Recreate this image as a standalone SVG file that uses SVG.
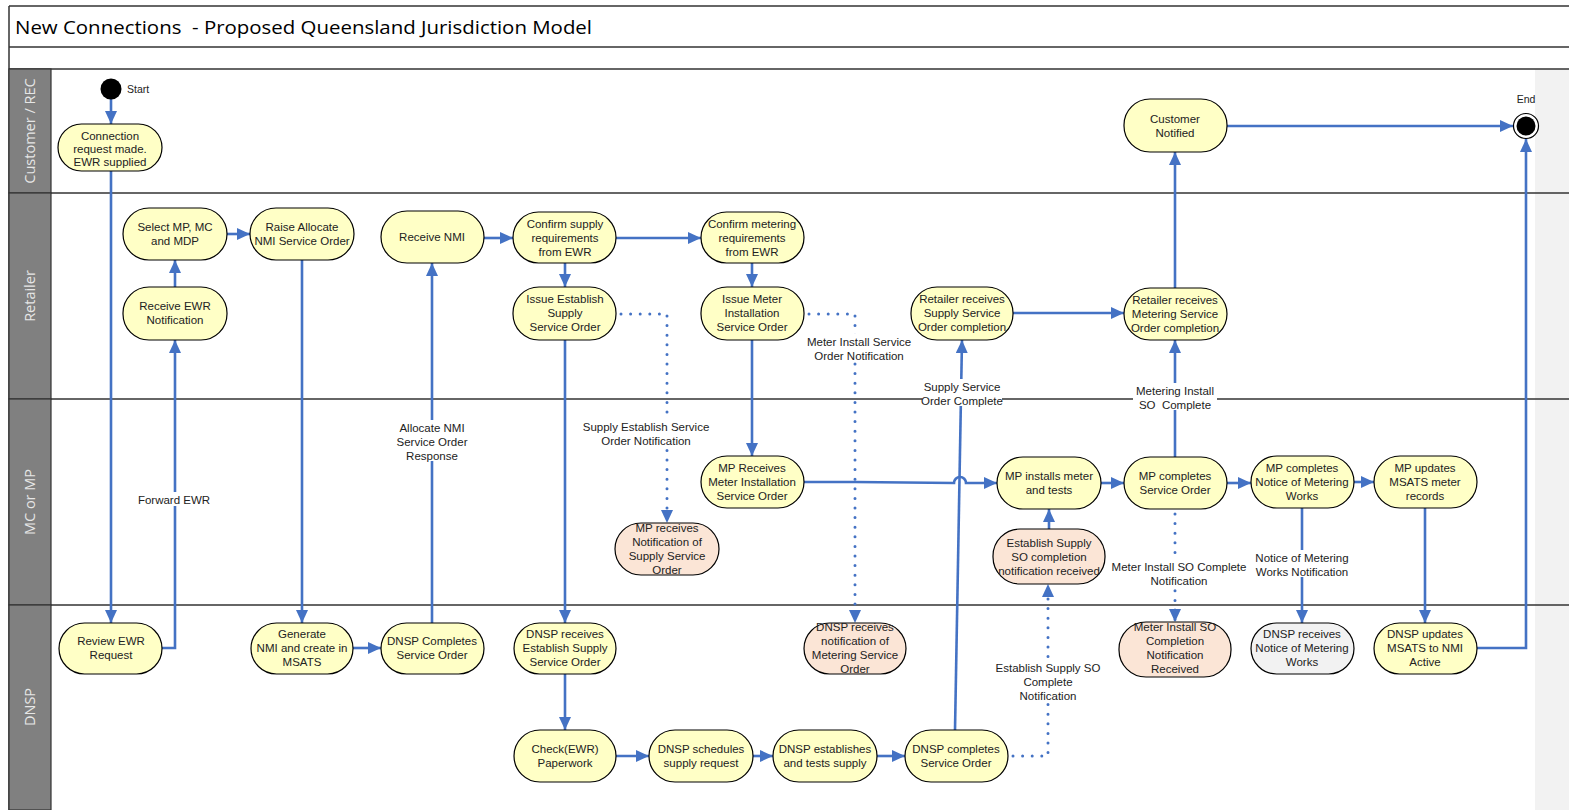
<svg xmlns="http://www.w3.org/2000/svg" width="1569" height="810" viewBox="0 0 1569 810">
<style>
.frame{fill:none;stroke:#333;stroke-width:1.5}
.lanehead{fill:#808080;stroke:#333;stroke-width:1.2}
.lanetxt{font-family:"Open Sans","Liberation Sans",sans-serif;font-size:14.5px;fill:#e6e6e6;text-anchor:middle}
.title{font-family:"Open Sans","Liberation Sans",sans-serif;font-size:19px;fill:#000}
.node rect{stroke:#000;stroke-width:1.2}
.y rect{fill:#ffffc6}
.p rect{fill:#fbe5d6}
.g rect{fill:#f2f2f2}
.node text,.lbl text{font-family:"Liberation Sans",Arial,sans-serif;font-size:11.5px;fill:#222;text-anchor:middle}
.c{fill:none;stroke:#4472c4;stroke-width:2.6;marker-end:url(#ah)}
.d{fill:none;stroke:#4472c4;stroke-width:3;stroke-dasharray:0 9.6;stroke-linecap:round;marker-end:url(#ah)}
.lbl rect{fill:#fff}
.small{font-family:"Liberation Sans",Arial,sans-serif;font-size:10.5px;fill:#222}
</style>
<defs>
<marker id="ah" viewBox="0 0 13 12" markerUnits="userSpaceOnUse" markerWidth="13" markerHeight="12" refX="13" refY="6" orient="auto">
<path d="M0,0 L13,6 L0,12 z" fill="#4472c4"/>
</marker>
</defs>
<rect x="0" y="0" width="1569" height="810" fill="#fff"/>
<rect x="1535" y="69" width="34" height="741" fill="#f2f2f2"/>
<g id="frame">
<line class="frame" x1="9" y1="6" x2="1569" y2="6"/>
<line class="frame" x1="9" y1="47" x2="1569" y2="47"/>
<line class="frame" x1="9" y1="69" x2="1569" y2="69"/>
<line class="frame" x1="9" y1="6" x2="9" y2="810"/>
<line class="frame" x1="9" y1="193" x2="1569" y2="193"/>
<line class="frame" x1="9" y1="399" x2="1569" y2="399"/>
<line class="frame" x1="9" y1="605" x2="1569" y2="605"/>
<text class="title" x="15" y="34" xml:space="preserve" textLength="577" lengthAdjust="spacingAndGlyphs">New Connections  - Proposed Queensland Jurisdiction Model</text>
</g>
<g id="lanes">
<rect class="lanehead" x="9" y="69" width="42" height="124"/>
<rect class="lanehead" x="9" y="193" width="42" height="206"/>
<rect class="lanehead" x="9" y="399" width="42" height="206"/>
<rect class="lanehead" x="9" y="605" width="42" height="205"/>
<text class="lanetxt" transform="translate(35,131) rotate(-90)">Customer / REC</text>
<text class="lanetxt" transform="translate(35,296) rotate(-90)">Retailer</text>
<text class="lanetxt" transform="translate(35,502) rotate(-90)">MC or MP</text>
<text class="lanetxt" transform="translate(35,707) rotate(-90)">DNSP</text>
</g>
<g id="connectors">
<path class="c" d="M111,99 V124"/>
<path class="c" d="M111,171 V623"/>
<path class="c" d="M162,648 H175 V340"/>
<path class="c" d="M175,287 V260"/>
<path class="c" d="M227,234 H250"/>
<path class="c" d="M302,260 V623"/>
<path class="c" d="M353,648 H381"/>
<path class="c" d="M432,623 V263"/>
<path class="c" d="M484,238 H513"/>
<path class="c" d="M616,238 H701"/>
<path class="c" d="M565,263 V287"/>
<path class="c" d="M752,263 V287"/>
<path class="c" d="M565,340 V623"/>
<path class="d" d="M621,314 H667 V523"/>
<path class="c" d="M752,340 V456"/>
<path class="d" d="M809,314 H855 V623"/>
<path class="c" d="M804,482 H855 L954,483 A6,6 0 0 1 966,483 L997,483"/>
<path class="c" d="M565,674 V730"/>
<path class="c" d="M616,756 H649"/>
<path class="c" d="M753,756 H773"/>
<path class="c" d="M877,756 H905"/>
<path class="c" d="M955,730 L962,340"/>
<path class="d" d="M1013,756 H1048 V584"/>
<path class="c" d="M1049,529 V509"/>
<path class="c" d="M1101,483 H1124"/>
<path class="c" d="M1175,457 V340"/>
<path class="c" d="M1013,313 H1124"/>
<path class="c" d="M1175,288 V152"/>
<path class="c" d="M1227,126 H1513"/>
<path class="d" d="M1175,514 V622"/>
<path class="c" d="M1227,483 H1251"/>
<path class="c" d="M1354,482 H1374"/>
<path class="c" d="M1302,508 V623"/>
<path class="c" d="M1425,508 V623"/>
<path class="c" d="M1477,648 H1526 V139"/>
<g class="lbl">
<rect x="137" y="492" width="75" height="14"/>
<text x="174" y="504">Forward EWR</text>
<rect x="395" y="420" width="74" height="41"/>
<text x="432" y="432">Allocate NMI</text>
<text x="432" y="446">Service Order</text>
<text x="432" y="460">Response</text>
<rect x="580" y="419" width="132" height="28"/>
<text x="646" y="431">Supply Establish Service</text>
<text x="646" y="445">Order Notification</text>
<rect x="805" y="334" width="108" height="28"/>
<text x="859" y="346">Meter Install Service</text>
<text x="859" y="360">Order Notification</text>
<rect x="922" y="379" width="80" height="27"/>
<text x="962" y="391">Supply Service</text>
<text x="962" y="405">Order Complete</text>
<rect x="1133" y="383" width="84" height="27"/>
<text x="1175" y="395">Metering Install</text>
<text x="1175" y="409" xml:space="preserve">SO  Complete</text>
<rect x="1108" y="559" width="142" height="27"/>
<text x="1179" y="571">Meter Install SO Complete</text>
<text x="1179" y="585">Notification</text>
<rect x="1253" y="550" width="98" height="27"/>
<text x="1302" y="562">Notice of Metering</text>
<text x="1302" y="576">Works Notification</text>
<rect x="998" y="660" width="102" height="41"/>
<text x="1048" y="672">Establish Supply SO</text>
<text x="1048" y="686">Complete</text>
<text x="1048" y="700">Notification</text>
</g>
</g>
<g id="start">
<circle cx="111" cy="89" r="10.5" fill="#000"/>
<text class="small" x="127" y="93">Start</text>
</g>
<g id="end">
<circle cx="1526" cy="126" r="12.5" fill="#fff" stroke="#000" stroke-width="1.2"/>
<circle cx="1526" cy="126" r="9.5" fill="#000"/>
<text class="small" x="1526" y="103" text-anchor="middle">End</text>
</g>
<g id="n_connection" class="node y"><rect x="58" y="124" width="104" height="47" rx="23.5"/><text x="110" y="139.5">Connection</text><text x="110" y="152.5">request made.</text><text x="110" y="165.5">EWR supplied</text></g>
<g id="n_select" class="node y"><rect x="123" y="208" width="104" height="52" rx="26"/><text x="175" y="231">Select MP, MC</text><text x="175" y="245">and MDP</text></g>
<g id="n_raise" class="node y"><rect x="250" y="208" width="104" height="52" rx="26"/><text x="302" y="231">Raise Allocate</text><text x="302" y="245">NMI Service Order</text></g>
<g id="n_receive_ewr" class="node y"><rect x="123" y="287" width="104" height="53" rx="26"/><text x="175" y="310">Receive EWR</text><text x="175" y="324">Notification</text></g>
<g id="n_receive_nmi" class="node y"><rect x="381" y="211" width="103" height="52" rx="26"/><text x="432" y="241">Receive NMI</text></g>
<g id="n_confirm_supply" class="node y"><rect x="513" y="212" width="103" height="51" rx="25.5"/><text x="565" y="228">Confirm supply</text><text x="565" y="242">requirements</text><text x="565" y="256">from EWR</text></g>
<g id="n_confirm_meter" class="node y"><rect x="701" y="212" width="103" height="51" rx="25.5"/><text x="752" y="228">Confirm metering</text><text x="752" y="242">requirements</text><text x="752" y="256">from EWR</text></g>
<g id="n_issue_supply" class="node y"><rect x="513" y="287" width="103" height="53" rx="26"/><text x="565" y="303">Issue Establish</text><text x="565" y="317">Supply</text><text x="565" y="331">Service Order</text></g>
<g id="n_issue_meter" class="node y"><rect x="701" y="287" width="103" height="53" rx="26"/><text x="752" y="303">Issue Meter</text><text x="752" y="317">Installation</text><text x="752" y="331">Service Order</text></g>
<g id="n_ret_supply" class="node y"><rect x="911" y="287" width="102" height="53" rx="26"/><text x="962" y="303">Retailer receives</text><text x="962" y="317">Supply Service</text><text x="962" y="331">Order completion</text></g>
<g id="n_ret_meter" class="node y"><rect x="1124" y="288" width="103" height="52" rx="26"/><text x="1175" y="304">Retailer receives</text><text x="1175" y="318">Metering Service</text><text x="1175" y="332">Order completion</text></g>
<g id="n_cust_notified" class="node y"><rect x="1124" y="99" width="103" height="53" rx="26"/><text x="1175" y="123">Customer</text><text x="1175" y="137">Notified</text></g>
<g id="n_mp_receives" class="node y"><rect x="701" y="456" width="103" height="52" rx="26"/><text x="752" y="472">MP Receives</text><text x="752" y="486">Meter Installation</text><text x="752" y="500">Service Order</text></g>
<g id="n_mp_notif_supply" class="node p"><rect x="615" y="523" width="104" height="52" rx="26"/><text x="667" y="532">MP receives</text><text x="667" y="546">Notification of</text><text x="667" y="560">Supply Service</text><text x="667" y="574">Order</text></g>
<g id="n_mp_installs" class="node y"><rect x="997" y="457" width="104" height="52" rx="26"/><text x="1049" y="480">MP installs meter</text><text x="1049" y="494">and tests</text></g>
<g id="n_est_supply_recv" class="node p"><rect x="993" y="529" width="112" height="55" rx="27"/><text x="1049" y="547">Establish Supply</text><text x="1049" y="561">SO completion</text><text x="1049" y="575">notification received</text></g>
<g id="n_mp_completes" class="node y"><rect x="1124" y="457" width="103" height="52" rx="26"/><text x="1175" y="480">MP completes</text><text x="1175" y="494">Service Order</text></g>
<g id="n_mp_notice" class="node y"><rect x="1251" y="456" width="103" height="52" rx="26"/><text x="1302" y="472">MP completes</text><text x="1302" y="486">Notice of Metering</text><text x="1302" y="500">Works</text></g>
<g id="n_mp_updates" class="node y"><rect x="1374" y="456" width="103" height="52" rx="26"/><text x="1425" y="472">MP updates</text><text x="1425" y="486">MSATS meter</text><text x="1425" y="500">records</text></g>
<g id="n_review_ewr" class="node y"><rect x="59" y="623" width="103" height="51" rx="25.5"/><text x="111" y="645">Review EWR</text><text x="111" y="659">Request</text></g>
<g id="n_generate" class="node y"><rect x="251" y="623" width="102" height="51" rx="25.5"/><text x="302" y="638">Generate</text><text x="302" y="652">NMI and create in</text><text x="302" y="666">MSATS</text></g>
<g id="n_dnsp_completes_nmi" class="node y"><rect x="381" y="623" width="103" height="51" rx="25.5"/><text x="432" y="645">DNSP Completes</text><text x="432" y="659">Service Order</text></g>
<g id="n_dnsp_recv_est" class="node y"><rect x="514" y="623" width="102" height="51" rx="25.5"/><text x="565" y="638">DNSP receives</text><text x="565" y="652">Establish Supply</text><text x="565" y="666">Service Order</text></g>
<g id="n_dnsp_recv_meter" class="node p"><rect x="804" y="623" width="102" height="51" rx="25.5"/><text x="855" y="631">DNSP receives</text><text x="855" y="645">notification of</text><text x="855" y="659">Metering Service</text><text x="855" y="673">Order</text></g>
<g id="n_meter_so_recv" class="node p"><rect x="1119" y="622" width="112" height="55" rx="27"/><text x="1175" y="631">Meter Install SO</text><text x="1175" y="645">Completion</text><text x="1175" y="659">Notification</text><text x="1175" y="673">Received</text></g>
<g id="n_dnsp_recv_notice" class="node g"><rect x="1251" y="623" width="103" height="51" rx="25.5"/><text x="1302" y="638">DNSP receives</text><text x="1302" y="652">Notice of Metering</text><text x="1302" y="666">Works</text></g>
<g id="n_dnsp_updates" class="node y"><rect x="1374" y="623" width="103" height="51" rx="25.5"/><text x="1425" y="638">DNSP updates</text><text x="1425" y="652">MSATS to NMI</text><text x="1425" y="666">Active</text></g>
<g id="n_check" class="node y"><rect x="514" y="730" width="102" height="52" rx="26"/><text x="565" y="753">Check(EWR)</text><text x="565" y="767">Paperwork</text></g>
<g id="n_schedules" class="node y"><rect x="649" y="730" width="104" height="52" rx="26"/><text x="701" y="753">DNSP schedules</text><text x="701" y="767">supply request</text></g>
<g id="n_establishes" class="node y"><rect x="773" y="730" width="104" height="52" rx="26"/><text x="825" y="753">DNSP establishes</text><text x="825" y="767">and tests supply</text></g>
<g id="n_dnsp_completes" class="node y"><rect x="905" y="730" width="103" height="52" rx="26"/><text x="956" y="753">DNSP completes</text><text x="956" y="767">Service Order</text></g>
</svg>
